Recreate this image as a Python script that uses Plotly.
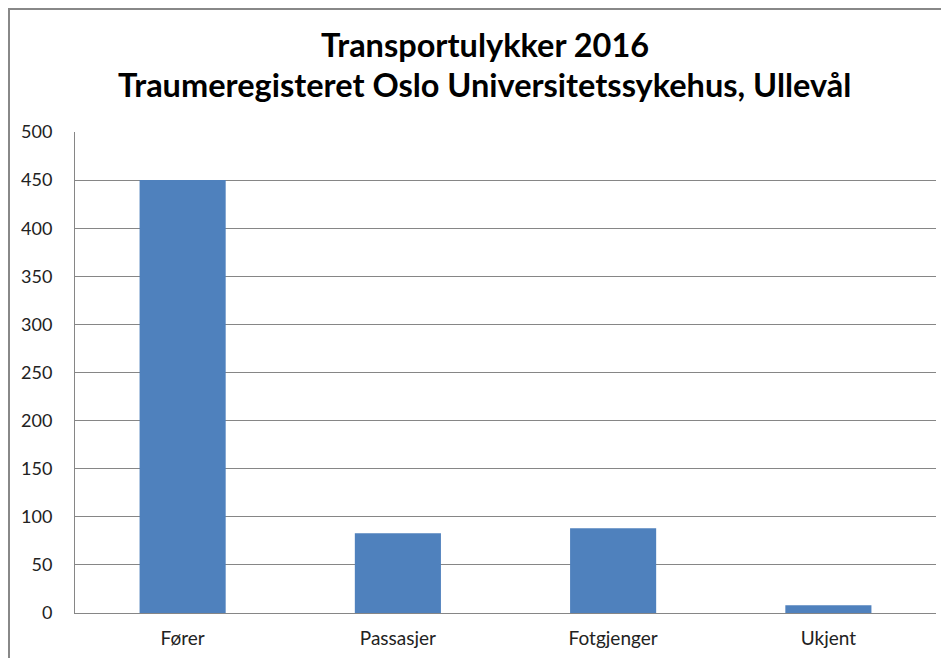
import plotly.graph_objects as go

categories = ["Fører", "Passasjer", "Fotgjenger", "Ukjent"]
values = [450, 83, 88, 8]
y_ticks = [0, 50, 100, 150, 200, 250, 300, 350, 400, 450, 500]
title_lines = ["Transportulykker 2016", "Traumeregisteret Oslo Universitetssykehus, Ullevål"]

# page body has an 8px margin; figure fills the rest of the window
W, H = 941, 650
L, R, T, B = 67, 13, 124, 45
pw, ph = W - L - R, H - T - B

fig = go.Figure(go.Bar(x=categories, y=values, marker=dict(color="#4F81BD", line=dict(width=0))))

font = "Lato, Calibri, Carlito, sans-serif"
fig.update_layout(
    width=W, height=H,
    margin=dict(l=L, r=R, t=T, b=B, autoexpand=False),
    paper_bgcolor="white", plot_bgcolor="white",
    bargap=0.6,
    showlegend=False,
    font=dict(family=font, size=18, color="#222"),
)
for i, t in enumerate(title_lines):
    fig.add_annotation(text=f"<b>{t}</b>", xref="paper", yref="paper", x=0.5 - 21 / pw,
                       y=(H - B - (37 + 40 * i)) / ph, xanchor="center", yanchor="middle",
                       showarrow=False, font=dict(family=font, size=32.5, color="black"))

fig.update_yaxes(range=[0, 500], tickvals=y_ticks, showgrid=True, gridcolor="#868686", gridwidth=1,
                 zeroline=False, showline=True, linecolor="#868686", linewidth=1, automargin=False,
                 ticks="", ticklabelstandoff=18, tickfont=dict(size=18, color="#222"), fixedrange=True)
fig.update_xaxes(showline=True, linecolor="#868686", linewidth=1, ticks="", automargin=False,
                 ticklabelstandoff=8, tickfont=dict(size=19, color="#222"), fixedrange=True)

# chart border (top and left edges of the figure)
fig.add_shape(type="rect", xref="paper", yref="paper",
              x0=(1 - L) / pw, x1=(W + 5 - L) / pw,
              y0=(H - B - (H + 5)) / ph, y1=(H - B - 1) / ph,
              line=dict(color="#888888", width=2), fillcolor="rgba(0,0,0,0)", layer="below")

fig.write_html("out.html")
